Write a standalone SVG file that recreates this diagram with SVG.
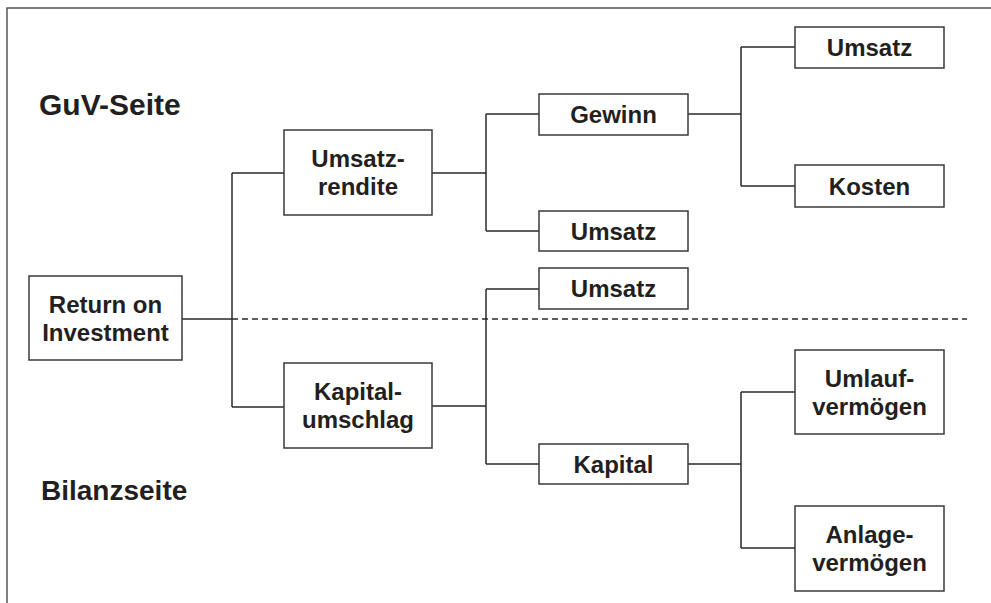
<svg xmlns="http://www.w3.org/2000/svg" width="991" height="603" viewBox="0 0 991 603">
<style>
.box{fill:#fff;stroke:#3a3a3a;stroke-width:1.5}
.lbl{font-family:"Liberation Sans",Arial,sans-serif;font-weight:bold;font-size:24px;fill:#231f20;text-anchor:middle}
.head{font-family:"Liberation Sans",Arial,sans-serif;font-weight:bold;font-size:29px;fill:#231f20}
.ln{fill:none;stroke:#2a2a2a;stroke-width:1.5}
.dash{fill:none;stroke:#2a2a2a;stroke-width:1.3;stroke-dasharray:6 4}
.frame{fill:none;stroke:#555;stroke-width:1.5}
</style>
<rect width="991" height="603" fill="#fff"/>
<path class="frame" d="M7 603V8H991"/>
<text class="head" x="39" y="115" style="font-size:30px">GuV-Seite</text>
<text class="head" x="41" y="500" style="font-size:28px">Bilanzseite</text>
<g id="connectors">
<path class="ln" d="M182 319H232M232 173V407M232 173H284M232 407H284"/>
<path class="dash" d="M232 319H967"/>
<path class="ln" d="M432 173H486M486 114V231M486 114H539M486 231H539"/>
<path class="ln" d="M432 406H486M486 289V464M486 289H539M486 464H539"/>
<path class="ln" d="M688 114H741M741 47V186M741 47H795M741 186H795"/>
<path class="ln" d="M688 464H741M741 392V548M741 392H795M741 548H795"/>
</g>
<g id="roi"><rect class="box" x="29" y="276" width="153" height="84"/><text class="lbl" x="105.5" y="312.5">Return on</text><text class="lbl" x="105.5" y="341">Investment</text></g>
<g id="umsatzrendite"><rect class="box" x="284" y="130" width="148" height="85"/><text class="lbl" x="358" y="167">Umsatz-</text><text class="lbl" x="358" y="195">rendite</text></g>
<g id="kapitalumschlag"><rect class="box" x="284" y="363" width="148" height="85"/><text class="lbl" x="358" y="400">Kapital-</text><text class="lbl" x="358" y="428">umschlag</text></g>
<g id="gewinn"><rect class="box" x="539" y="94" width="149" height="41"/><text class="lbl" x="613.5" y="123">Gewinn</text></g>
<g id="umsatz2"><rect class="box" x="539" y="211" width="149" height="40"/><text class="lbl" x="613.5" y="239.5">Umsatz</text></g>
<g id="umsatz3"><rect class="box" x="539" y="268" width="149" height="41"/><text class="lbl" x="613.5" y="297">Umsatz</text></g>
<g id="kapital"><rect class="box" x="539" y="444" width="149" height="40"/><text class="lbl" x="613.5" y="472.5">Kapital</text></g>
<g id="umsatz1"><rect class="box" x="795" y="27" width="149" height="41"/><text class="lbl" x="869.5" y="56">Umsatz</text></g>
<g id="kosten"><rect class="box" x="795" y="165" width="149" height="42"/><text class="lbl" x="869.5" y="194.5">Kosten</text></g>
<g id="umlauf"><rect class="box" x="795" y="350" width="149" height="84"/><text class="lbl" x="869.5" y="386.5">Umlauf-</text><text class="lbl" x="869.5" y="414.5">vermögen</text></g>
<g id="anlage"><rect class="box" x="795" y="506" width="149" height="85"/><text class="lbl" x="869.5" y="543">Anlage-</text><text class="lbl" x="869.5" y="571">vermögen</text></g>
</svg>
